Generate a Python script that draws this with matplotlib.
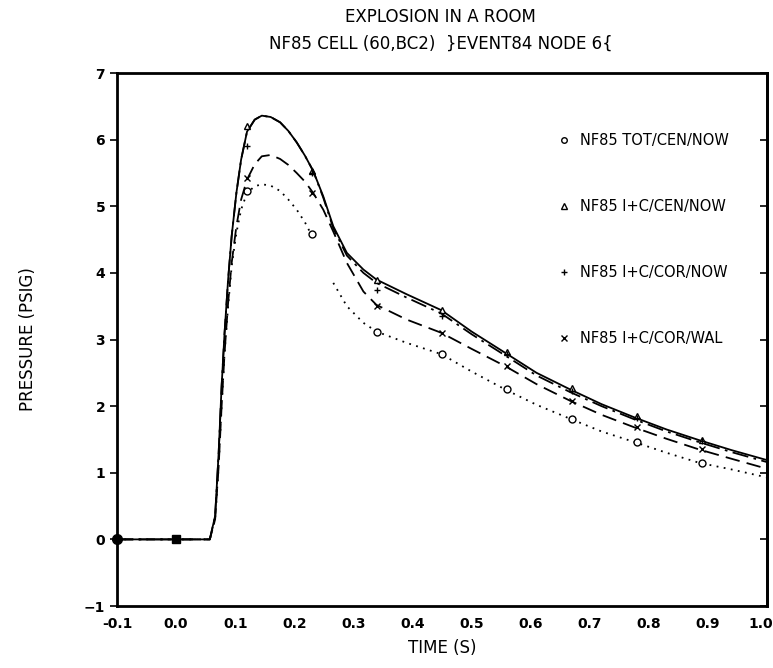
import numpy as np
import matplotlib.pyplot as plt
import matplotlib.transforms as mtransforms

time = [-0.1, 0.0, 0.057, 0.066, 0.072, 0.077, 0.082, 0.088, 0.094, 0.102,
        0.11, 0.12, 0.133, 0.145, 0.16, 0.176, 0.19, 0.204, 0.218, 0.232,
        0.249, 0.266, 0.289, 0.317, 0.339, 0.39, 0.449, 0.5, 0.557, 0.61,
        0.667, 0.72, 0.776, 0.83, 0.885, 0.94, 1.0]

tot_cen_now = [0, 0, 0, 0.3, 1.1, 2.0, 2.8, 3.5, 4.1, 4.6,
               4.95, 5.2, 5.3, 5.33, 5.31, 5.23, 5.1, 4.95, 4.76, 4.52,
               np.nan, 3.85, 3.5, 3.25, 3.12, 2.95, 2.78, 2.52, 2.25, 2.02,
               1.81, 1.62, 1.46, 1.3, 1.15, 1.05, 0.93]

ic_cen_now = [0, 0, 0, 0.35, 1.3, 2.3, 3.1, 3.9, 4.55, 5.2,
              5.7, 6.12, 6.3, 6.36, 6.34, 6.26, 6.13, 5.96, 5.76, 5.53,
              5.15, 4.7, 4.3, 4.05, 3.9, 3.68, 3.44, 3.12, 2.8, 2.5,
              2.25, 2.03, 1.83, 1.65, 1.49, 1.34, 1.19]

ic_cor_now = [0, 0, 0, 0.35, 1.3, 2.3, 3.1, 3.9, 4.55, 5.2,
              5.7, 6.12, 6.3, 6.36, 6.34, 6.26, 6.13, 5.96, 5.76, 5.53,
              5.13, 4.67, 4.26, 4.0, 3.85, 3.63, 3.39, 3.08, 2.76, 2.46,
              2.21, 2.0, 1.8, 1.62, 1.46, 1.31, 1.16]

ic_cor_wal = [0, 0, 0, 0.3, 1.1, 2.0, 2.8, 3.55, 4.15, 4.7,
              5.1, 5.4, 5.63, 5.75, 5.77, 5.71, 5.62, 5.5, 5.37, 5.2,
              4.95, 4.62, 4.15, 3.72, 3.52, 3.3, 3.1, 2.86, 2.6, 2.33,
              2.08, 1.87, 1.68, 1.51, 1.35, 1.21, 1.06]

# marker positions
mark_time = [0.12, 0.23, 0.34, 0.45, 0.56, 0.67, 0.78, 0.89]
mark_tot_cen_now = [5.23, 4.58, 3.12, 2.78, 2.25, 1.81, 1.46, 1.15]
mark_ic_cen_now = [6.2, 5.53, 3.9, 3.45, 2.82, 2.27, 1.85, 1.49]
mark_ic_cor_now = [5.9, 5.5, 3.75, 3.35, 2.78, 2.22, 1.82, 1.47]
mark_ic_cor_wal = [5.43, 5.2, 3.5, 3.1, 2.6, 2.08, 1.68, 1.35]

labels = ["NF85 TOT/CEN/NOW", "NF85 I+C/CEN/NOW",
          "NF85 I+C/COR/NOW", "NF85 I+C/COR/WAL"]

xticks = [-0.1, 0.0, 0.1, 0.2, 0.3, 0.4, 0.5, 0.6, 0.7, 0.8, 0.9, 1.0]
yticks = [-1, 0, 1, 2, 3, 4, 5, 6, 7]

plt.rcParams["font.family"] = "DejaVu Sans"

fig = plt.figure(figsize=(7.73, 6.68), dpi=100)
ax = fig.add_axes([0.1514, 0.0928, 0.8408, 0.7979])

series = [
    (tot_cen_now, mark_tot_cen_now, (0, (1, 3)), "o", labels[0]),
    (ic_cen_now, mark_ic_cen_now, "-", "^", labels[1]),
    (ic_cor_now, mark_ic_cor_now, (0, (9, 3, 1.5, 3)), "+", labels[2]),
    (ic_cor_wal, mark_ic_cor_wal, (0, (8, 4)), "x", labels[3]),
]

handles = []
for values, marks, ls, mk, lab in series:
    ax.plot(time, values, color="black", linestyle=ls, linewidth=1.3)
    ax.plot(mark_time, marks, linestyle="none", marker=mk, color="black",
            markersize=5, markerfacecolor="white" if mk in "o^" else "black",
            markeredgewidth=1.0)
    h, = ax.plot([], [], linestyle="none", marker=mk, color="black",
                 markersize=4, markerfacecolor="white" if mk in "o^" else "black")
    handles.append(h)

# the four markers pile up at t = -0.1 and t = 0.0
ax.plot([-0.1], [0], linestyle="none", marker="o", color="black",
        markersize=7, clip_on=False)
ax.plot([0.0], [0], linestyle="none", marker="s", color="black",
        markersize=6)

ax.set_xlim(-0.1, 1.0)
ax.set_ylim(-1, 7)
ax.set_xticks(xticks)
ax.set_xticklabels([f"{v:.1f}" for v in xticks])
ax.set_yticks(yticks)

ax.tick_params(axis="y", direction="out", length=5, width=1.2, labelsize=10)
ax.tick_params(axis="x", direction="out", length=0, labelsize=10, pad=8)
for lab in ax.get_xticklabels() + ax.get_yticklabels():
    lab.set_fontweight("bold")
last = ax.get_xticklabels()[-1]
last.set_horizontalalignment("right")
last.set_transform(last.get_transform() +
                   mtransforms.ScaledTranslation(6 / 100, 0, fig.dpi_scale_trans))

# ticks on the right side point inward
sec = ax.secondary_yaxis("right")
sec.set_yticks(yticks)
sec.tick_params(direction="in", length=5, width=1.2, labelright=False)

for sp in ax.spines.values():
    sp.set_linewidth(2)
sec.spines["right"].set_linewidth(2)

ax.set_xlabel("TIME (S)", fontsize=12, labelpad=6)
ax.set_ylabel("PRESSURE (PSIG)", fontsize=12, labelpad=34)

fig.text(0.57, 0.975, "EXPLOSION IN A ROOM", ha="center", va="center",
         fontsize=12)
fig.text(0.57, 0.935, "NF85 CELL (60,BC2)  }EVENT84 NODE 6{", ha="center",
         va="center", fontsize=12)

ax.legend(handles, labels, loc="upper right", frameon=False, fontsize=10.5,
          labelspacing=3.5, handletextpad=0.6, handlelength=1.0,
          bbox_to_anchor=(0.962, 0.912))

fig.savefig("out.png", dpi=100)
